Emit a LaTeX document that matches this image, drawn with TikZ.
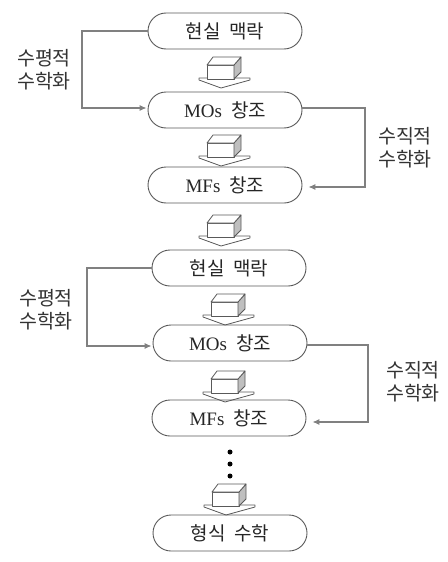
\documentclass[tikz,border=0pt]{standalone}
\usepackage{fontspec}
\setmainfont{Liberation Serif}
\newfontfamily\kr{Noto Sans CJK KR}
\usetikzlibrary{arrows.meta}
\begin{document}
\begin{tikzpicture}[x=1pt,y=-1pt,
 stadium/.style={draw=black!65, line width=0.9pt, rounded corners=18pt, minimum width=154pt, minimum height=36pt, inner sep=0pt, font=\fontsize{19}{21}\selectfont, text=black!85},
 conn/.style={draw=black!50, line width=1.1pt},
 tip/.style={-{Latex[length=7pt,width=6pt]}},
 lab/.style={font=\kr\fontsize{19.5}{23}\selectfont, align=left, text=black!80, inner sep=0pt},
 blockarrow/.pic={
   \draw[black!65, line width=0.8pt, fill=white, line join=round]
     (-25,21) -- (26,21) -- (26,23) -- (-3,31) -- (-25,23) -- cycle;
   \draw[black!65, line width=0.8pt, fill=white, line join=round]
     (-17,8) rectangle (10,22);
   \draw[black!65, line width=0.8pt, fill=black!25, line join=round]
     (10,8) -- (17,0) -- (17,15) -- (10,22) -- cycle;
   \draw[black!65, line width=0.8pt, fill=white, line join=round]
     (-17,8) -- (-11,0) -- (17,0) -- (10,8) -- cycle;
 }
]
\useasboundingbox (0,0) rectangle (447,562);

% first cycle
\node[stadium] (n1) at (225,31) {\kr 현실\hspace{9pt}맥락};
\pic at (224,57) {blockarrow};
\node[stadium] (n2) at (225,110) {MOs\hspace{9pt}\kr 창조};
\pic at (224,135) {blockarrow};
\node[stadium] (n3) at (225,185) {MFs\hspace{9pt}\kr 창조};
\pic at (224,215) {blockarrow};

% second cycle
\node[stadium] (n4) at (229,268) {\kr 현실\hspace{9pt}맥락};
\pic at (228,294) {blockarrow};
\node[stadium] (n5) at (230,343) {MOs\hspace{9pt}\kr 창조};
\pic at (228,371) {blockarrow};
\node[stadium] (n6) at (229,418) {MFs\hspace{9pt}\kr 창조};

\node[circle, fill=black, inner sep=0pt, minimum size=5pt] (d1) at (230,452) {};
\node[circle, fill=black, inner sep=0pt, minimum size=5pt] (d2) at (230,464) {};
\node[circle, fill=black, inner sep=0pt, minimum size=5pt] (d3) at (230,476) {};

\pic at (229,484) {blockarrow};
\node[stadium] (n7) at (230,533) {\kr 형식\hspace{9pt}수학};

% connectors
\coordinate (l1) at (82,31);
\coordinate (l1b) at (82,108);
\draw[conn,tip] (n1.west) -- (l1) -- (l1b) -- ([xshift=-1pt]n2.west |- l1b);
\coordinate (r1) at (365,108);
\coordinate (r1b) at (365,187);
\draw[conn,tip] (n2.east |- r1) -- (r1) -- (r1b) -- ([xshift=6pt]n3.east |- r1b);

\coordinate (l2) at (87,268);
\coordinate (l2b) at (87,346);
\draw[conn,tip] (n4.west) -- (l2) -- (l2b) -- ([xshift=-1pt]n5.west |- l2b);
\coordinate (r2) at (368,345);
\coordinate (r2b) at (368,422);
\draw[conn,tip] (n5.east |- r2) -- (r2) -- (r2b) -- ([xshift=6pt]n6.east |- r2b);

% labels
\node[lab] (t1) at (44,70) {수평적\\수학화};
\node[lab] (t2) at (405,148) {수직적\\수학화};
\node[lab] (t3) at (46,310) {수평적\\수학화};
\node[lab] (t4) at (413,382) {수직적\\수학화};
\end{tikzpicture}
\end{document}
